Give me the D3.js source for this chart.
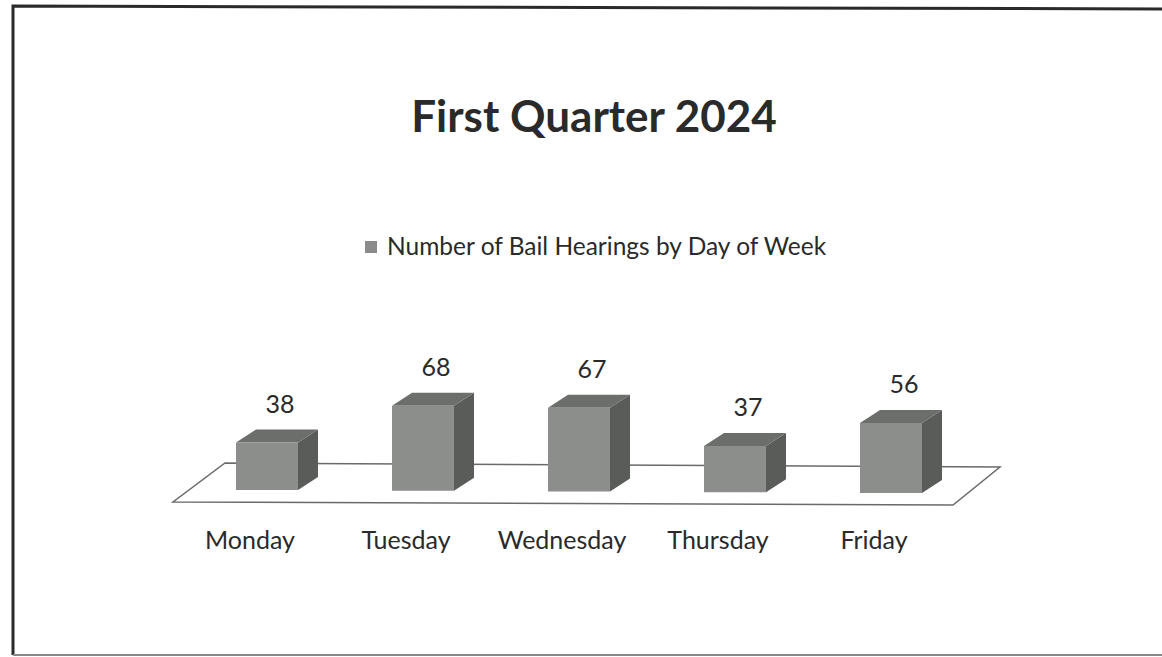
<!DOCTYPE html>
<html><head><meta charset="utf-8">
<script src="https://cdn.jsdelivr.net/npm/d3@7"></script>
<style>body{margin:0;background:#fff}svg{display:block}</style>
</head><body>
<svg id="c" width="1162" height="657"></svg>
<script>
const title = "First Quarter 2024";
const seriesName = "Number of Bail Hearings by Day of Week";
const categories = ["Monday","Tuesday","Wednesday","Thursday","Friday"];
const values = [38, 68, 67, 37, 56];

const svg = d3.select("#c");
const font = "Lato, 'Open Sans', sans-serif";

// frame
svg.append("path").attr("d","M13,655 L13,6 L1162,9").attr("fill","none").attr("stroke","#2a2a2a").attr("stroke-width",3);
svg.append("line").attr("x1",13).attr("x2",1162).attr("y1",655).attr("y2",655).attr("stroke","#888").attr("stroke-width",2);

svg.append("text").attr("x",594).attr("y",132).attr("text-anchor","middle")
  .attr("font-family",font).attr("font-weight","bold").attr("font-size",44).attr("fill","#2a2a2a").text(title);

// legend
svg.append("rect").attr("x",365).attr("y",241).attr("width",12).attr("height",12).attr("fill","#8a8a8a");
svg.append("text").attr("x",387).attr("y",255).attr("font-family",font).attr("font-size",24.5).attr("fill","#2a2a2a").text(seriesName);

const x = d3.scalePoint().domain(categories).range([267, 891]);
const y = d3.scaleLinear().domain([0, 80]).range([0, 100]);
const base = d3.scaleLinear().domain([267, 891]).range([490, 493]);
const w = 62, dx = 20, dy = -13;

// floor
const floor = [[225,463],[1000,467],[953,505],[173,502]];
svg.append("path").attr("d","M"+floor.join("L")+"Z").attr("fill","none").attr("stroke","#6a6a6a").attr("stroke-width",1.5);

const g = svg.append("g");
categories.forEach((c,i)=>{
  const cx = x(c), x0 = cx - w/2, x1 = cx + w/2;
  const b = base(cx), t = b - y(values[i]);
  g.append("path").attr("d",`M${x1},${b}L${x1+dx},${b+dy}L${x1+dx},${t+dy}L${x1},${t}Z`).attr("fill","#5a5c5a");
  g.append("path").attr("d",`M${x0},${t}L${x0+dx},${t+dy}L${x1+dx},${t+dy}L${x1},${t}Z`).attr("fill","#6c6e6c");
  g.append("rect").attr("x",x0).attr("y",t).attr("width",w).attr("height",b-t).attr("fill","#8c8e8c");
  g.append("text").attr("x",cx+13).attr("y",t-30).attr("text-anchor","middle")
    .attr("font-family",font).attr("font-size",25).attr("fill","#2a2a2a").text(values[i]);
  g.append("text").attr("x",cx-17).attr("y",549).attr("text-anchor","middle")
    .attr("font-family",font).attr("font-size",25).attr("fill","#2a2a2a").text(c);
});
</script>
</body></html>
